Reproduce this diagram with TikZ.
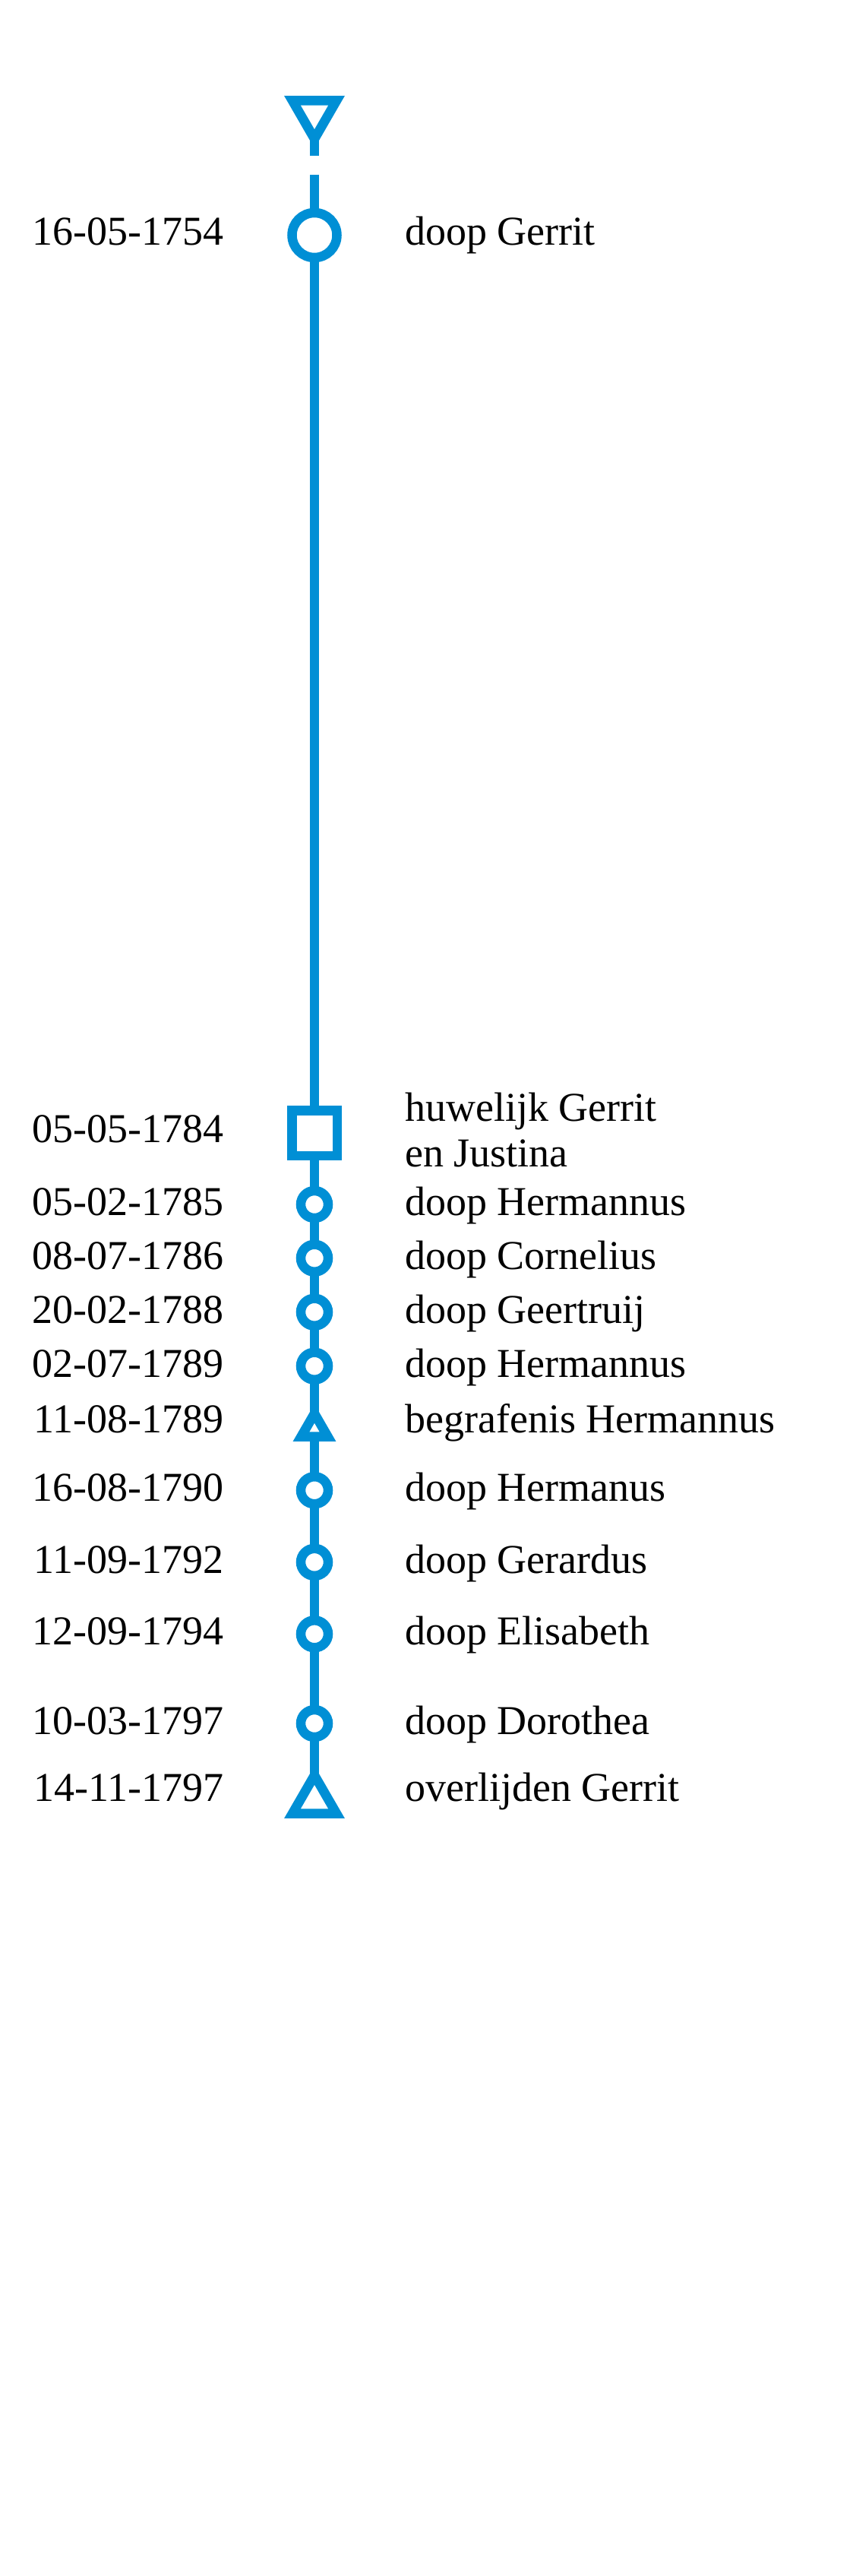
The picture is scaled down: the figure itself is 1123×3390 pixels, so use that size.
\documentclass[tikz,border=0pt]{standalone}
\usepackage{fontspec}
\setmainfont{Liberation Serif}
\usetikzlibrary{shapes.geometric}
\definecolor{tlblue}{HTML}{008FD5}
\begin{document}
\begin{tikzpicture}[x=1pt,y=-1pt,
  mk/.style={draw=tlblue, line width=12.5pt, fill=white, inner sep=0pt, outer sep=0pt},
  bigdot/.style={mk, circle, minimum size=59pt},
  dot/.style={mk, circle, minimum size=36pt},
  sqbox/.style={mk, rectangle, minimum size=59.5pt},
  tri/.style={mk, regular polygon, regular polygon sides=3},
  conn/.style={draw=tlblue, line width=12.5pt},
  date/.style={anchor=base east, inner sep=0pt, font=\fontsize{54}{60}\selectfont},
  lab/.style={anchor=base west, inner sep=0pt, font=\fontsize{54}{60}\selectfont},
  labtwo/.style={anchor=base west, inner sep=0pt, align=left, font=\fontsize{54}{60}\selectfont},
]
\useasboundingbox (0,0) rectangle (1123,3390);
% markers
\node[tri, minimum size=67pt, shape border rotate=180] (ttop) at (414,149.2) {};
\node[bigdot] (c0) at (414,309.5) {};
\node[sqbox] (sq) at (414,1491) {};
\node[dot] (c1) at (414,1585) {};
\node[dot] (c2) at (414,1655.7) {};
\node[dot] (c3) at (414,1726.7) {};
\node[dot] (c4) at (414,1797.7) {};
\node[tri, minimum size=40.4pt] (tsm) at (414,1880.4) {};
\node[dot] (c5) at (414,1961.2) {};
\node[dot] (c6) at (414,2055.8) {};
\node[dot] (c7) at (414,2150.3) {};
\node[dot] (c8) at (414,2268) {};
\node[tri, minimum size=67pt] (tbot) at (414,2369.8) {};
% connectors
\coordinate (s1) at (414,205);
\coordinate (s2) at (414,230);
\draw[conn] (ttop) -- (s1);
\draw[conn] (s2) -- (c0);
\draw[conn] (c0) -- (sq);
\draw[conn] (sq) -- (c1);
\draw[conn] (c1) -- (c2);
\draw[conn] (c2) -- (c3);
\draw[conn] (c3) -- (c4);
\draw[conn] (c4) -- (tsm);
\draw[conn] (tsm) -- (c5);
\draw[conn] (c5) -- (c6);
\draw[conn] (c6) -- (c7);
\draw[conn] (c7) -- (c8);
\draw[conn] (c8) -- (tbot);
% dates
\node[date] (d0) at (295,323) {16-05-1754};
\node[date] (d1) at (295,1503) {05-05-1784};
\node[date] (d2) at (295,1599.5) {05-02-1785};
\node[date] (d3) at (295,1670) {08-07-1786};
\node[date] (d4) at (295,1741) {20-02-1788};
\node[date] (d5) at (295,1812) {02-07-1789};
\node[date] (d6) at (295,1885) {11-08-1789};
\node[date] (d7) at (295,1975.5) {16-08-1790};
\node[date] (d8) at (295,2070) {11-09-1792};
\node[date] (d9) at (295,2164.5) {12-09-1794};
\node[date] (d10) at (295,2282) {10-03-1797};
\node[date] (d11) at (295,2370) {14-11-1797};
% labels
\node[lab] (l0) at (533,323) {doop Gerrit};
\node[labtwo] (l1) at (533,1535) {huwelijk Gerrit\\en Justina};
\node[lab] (l2) at (533,1599.5) {doop Hermannus};
\node[lab] (l3) at (533,1670) {doop Cornelius};
\node[lab] (l4) at (533,1741) {doop Geertruij};
\node[lab] (l5) at (533,1812) {doop Hermannus};
\node[lab] (l6) at (533,1885) {begrafenis Hermannus};
\node[lab] (l7) at (533,1975.5) {doop Hermanus};
\node[lab] (l8) at (533,2070) {doop Gerardus};
\node[lab] (l9) at (533,2164.5) {doop Elisabeth};
\node[lab] (l10) at (533,2282) {doop Dorothea};
\node[lab] (l11) at (533,2370) {overlijden Gerrit};
\end{tikzpicture}
\end{document}
